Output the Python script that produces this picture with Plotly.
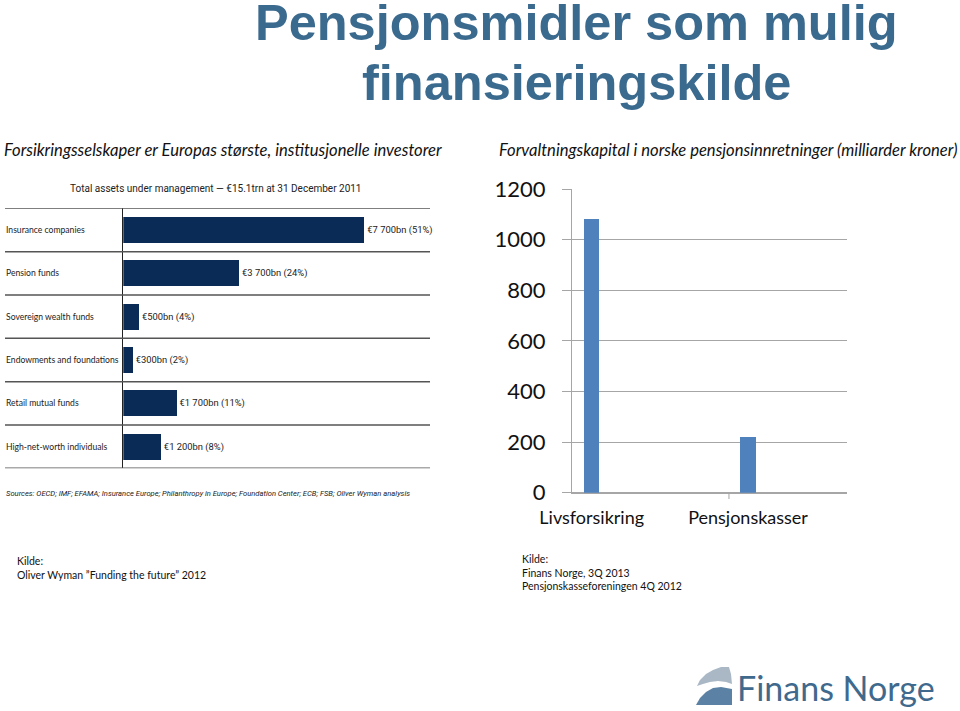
import plotly.graph_objects as go

W, H = 960, 711


def px(x):
    return x / W


def py(y):
    return 1 - y / H


# ---------------- data ----------------
left_title = "Total assets under management — €15.1trn at 31 December 2011"
left_categories = ["Insurance companies", "Pension funds", "Sovereign wealth funds",
                   "Endowments and foundations", "Retail mutual funds",
                   "High-net-worth individuals"]
left_values = [7700, 3700, 500, 300, 1700, 1200]
left_labels = ["€7 700bn (51%)", "€3 700bn (24%)", "€500bn (4%)", "€300bn (2%)",
               "€1 700bn (11%)", "€1 200bn (8%)"]
left_source = ("Sources: OECD; IMF; EFAMA; Insurance Europe; Philanthropy in Europe; "
               "Foundation Center; ECB; FSB; Oliver Wyman analysis")

right_categories = ["Livsforsikring", "Pensjonskasser"]
right_values = [1080, 220]
right_ticks = [0, 200, 400, 600, 800, 1000, 1200]

title_lines = ["Pensjonsmidler som mulig", "finansieringskilde"]
sub_left = "Forsikringsselskaper er Europas største, institusjonelle investorer"
sub_right = "Forvaltningskapital i norske pensjonsinnretninger (milliarder kroner)"
kilde_left = ["Kilde:", "Oliver Wyman ”Funding the future” 2012"]
kilde_right = ["Kilde:", "Finans Norge, 3Q 2013", "Pensjonskasseforeningen 4Q 2012"]

NARROW = "Roboto"
CAL = "Lato"
NAVY = "#0b2b57"
BLUE = "#4f81bd"
GRID = "#a6a6a6"

fig = go.Figure()

# right chart
fig.add_trace(go.Bar(
    x=right_categories, y=right_values, width=0.097,
    marker=dict(color=BLUE, line=dict(width=0)),
    xaxis="x", yaxis="y", showlegend=False, hoverinfo="skip"))

# left chart
fig.add_trace(go.Bar(
    y=left_categories, x=left_values, orientation="h", width=0.6,
    marker=dict(color=NAVY, line=dict(width=0)),
    text=left_labels, textposition="outside", cliponaxis=False,
    textfont=dict(family=NARROW, size=9.4, color="#222222"),
    xaxis="x2", yaxis="y2", showlegend=False, hoverinfo="skip"))

shapes = []
annotations = []

# separators for left chart
for i in range(len(left_categories) + 1):
    shapes.append(dict(type="line", xref="paper", yref="y2",
                       x0=px(5), x1=px(430), y0=i - 0.5, y1=i - 0.5,
                       line=dict(color="#555555", width=1.5)))
# category labels left chart
for c in left_categories:
    annotations.append(dict(xref="paper", yref="y2", x=px(4), y=c, xanchor="left",
                            yanchor="middle", showarrow=False, text=c,
                            font=dict(family=CAL, size=8.6, color="#222222")))
annotations.append(dict(xref="paper", yref="paper", x=px(216), y=py(188),
                        xanchor="center", yanchor="middle", showarrow=False,
                        text=left_title,
                        font=dict(family=NARROW, size=10, color="#222222")))
annotations.append(dict(xref="paper", yref="paper", x=px(4), y=py(493),
                        xanchor="left", yanchor="middle", showarrow=False,
                        text="<i>" + left_source + "</i>",
                        font=dict(family=NARROW, size=7.6, color="#222222")))

# small category-boundary tick on the right chart
shapes.append(dict(type="line", xref="x", yref="paper", x0=0.878, x1=0.878,
                   y0=py(493), y1=py(499), line=dict(color=GRID, width=1)))

# main title
for txt, yc in zip(title_lines, [22, 82]):
    annotations.append(dict(xref="paper", yref="paper", x=px(576), y=py(yc),
                            xanchor="center", yanchor="middle", showarrow=False,
                            text="<b>" + txt + "</b>",
                            font=dict(family="Liberation Sans", size=50.5, color="#3b6a8f")))
# subtitles
annotations.append(dict(xref="paper", yref="paper", x=px(2), y=py(150),
                        xanchor="left", yanchor="middle", showarrow=False,
                        text="<i>" + sub_left + "</i>",
                        font=dict(family=CAL, size=16.6, color="#111111")))
annotations.append(dict(xref="paper", yref="paper", x=px(497), y=py(150),
                        xanchor="left", yanchor="middle", showarrow=False,
                        text="<i>" + sub_right + "</i>",
                        font=dict(family=CAL, size=16.6, color="#111111")))
# sources
annotations.append(dict(xref="paper", yref="paper", x=px(15), y=py(568),
                        xanchor="left", yanchor="middle", showarrow=False, align="left",
                        text="<br>".join(kilde_left),
                        font=dict(family=CAL, size=10.5, color="#111111")))
annotations.append(dict(xref="paper", yref="paper", x=px(520), y=py(572),
                        xanchor="left", yanchor="middle", showarrow=False, align="left",
                        text="<br>".join(kilde_right),
                        font=dict(family=CAL, size=10.5, color="#111111")))

# logo
annotations.append(dict(xref="paper", yref="paper", x=px(735), y=py(687),
                        xanchor="left", yanchor="middle", showarrow=False,
                        text="Finans Norge",
                        font=dict(family="Lato", size=34, color="#3f6a8d")))


def pth(points):
    return "M " + " L ".join(f"{px(a):.5f},{py(b):.5f}" for a, b in points) + " Z"


upper = [(697, 686), (700, 680), (706, 674), (713, 670), (721, 667), (729, 667),
         (731, 674), (732, 684), (726, 682), (718, 681), (710, 682), (703, 684)]
lower = [(696, 705), (700, 698), (706, 692), (713, 688), (721, 687), (732, 689),
         (732, 705)]
shapes.append(dict(type="path", xref="paper", yref="paper", path=pth(upper),
                   fillcolor="#aab8c6", line=dict(width=0)))
shapes.append(dict(type="path", xref="paper", yref="paper", path=pth(lower),
                   fillcolor="#5b82a4", line=dict(width=0)))

fig.update_layout(
    template="none",
    width=W, height=H, margin=dict(l=0, r=0, t=0, b=0, pad=0, autoexpand=False),
    paper_bgcolor="white", plot_bgcolor="white",
    bargap=0, showlegend=False,
    xaxis=dict(domain=[px(572), px(847)], type="category", range=[-0.126, 1.633],
               showline=True, linecolor=GRID, linewidth=1, ticks="",
               showgrid=False, zeroline=False,
               tickfont=dict(family=CAL, size=18, color="#111111"),
               ticklabelstandoff=9, fixedrange=True, automargin=False, anchor="y"),
    yaxis=dict(domain=[py(492.7), py(189)], range=[0, 1200], tickvals=right_ticks,
               showgrid=True, gridcolor=GRID, gridwidth=1,
               zeroline=True, zerolinecolor=GRID, zerolinewidth=1,
               showline=True, linecolor=GRID, linewidth=1,
               ticks="outside", ticklen=9, tickcolor=GRID, tickwidth=1,
               tickfont=dict(family=CAL, size=22, color="#111111"),
               ticklabelstandoff=12, fixedrange=True, automargin=False, anchor="x"),
    xaxis2=dict(domain=[px(123.3), px(430)], range=[0, 9800], visible=False,
                anchor="y2", fixedrange=True, automargin=False),
    yaxis2=dict(domain=[py(468.3), py(208.3)], type="category", range=[5.5, -0.5],
                showticklabels=False, ticks="", showgrid=False, zeroline=False,
                showline=True, linecolor="#222222", linewidth=1, anchor="x2",
                fixedrange=True, automargin=False),
    shapes=shapes, annotations=annotations,
)

fig.write_html("out.html",
               config={"displayModeBar": False, "staticPlot": True},
               post_script="document.body.style.margin='0';"
                           "document.body.style.overflow='hidden';")
